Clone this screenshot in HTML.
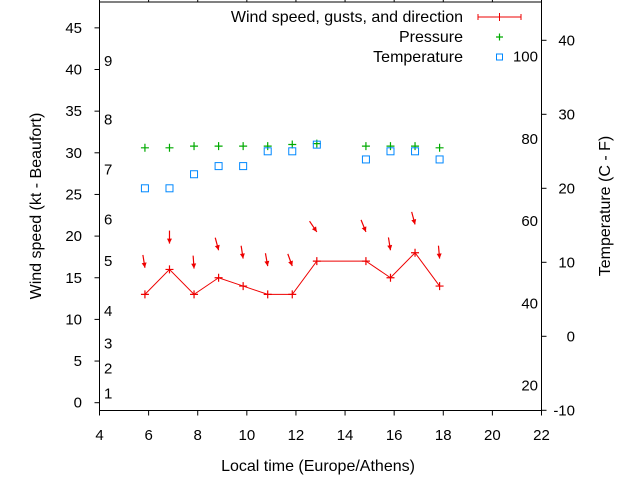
<!DOCTYPE html>
<html><head><meta charset="utf-8"><style>
body{margin:0;background:#fff}
svg{display:block;font-family:"Liberation Sans",sans-serif}
</style></head><body>
<svg id="chart" width="640" height="480" viewBox="0 0 640 480"></svg>
<script>
const times=[5.85,6.85,7.85,8.85,9.85,10.85,11.85,12.85,14.85,15.85,16.85,17.85];
const windSpeed=[13,16,13,15,14,13,13,17,17,15,18,14];
const gustSpeed=[16.2,19.1,16.1,18.3,17.3,16.4,16.4,20.5,20.5,18.3,21.4,17.3];
const windDir=[351,0,356,345,351,350,340,326,338,351,345,355];
const pressure=[30.6,30.6,30.8,30.8,30.8,30.8,31.0,31.1,30.8,30.8,30.8,30.6];
const temperature=[20.0,20.0,21.9,23.0,23.0,25.0,25.0,25.9,23.9,25.0,25.0,23.9];
const xTicks=[4,6,8,10,12,14,16,18,20,22];
const yTicks=[0,5,10,15,20,25,30,35,40,45];
const y2Ticks=[-10,0,10,20,30,40];
const beaufortLabels=[["1",1.1],["2",4.1],["3",7.1],["4",11],["5",17],["6",22],["7",28],["8",34],["9",41]];
const fahrenheitLabels=[20,40,60,80,100];

const L=99.5,R=541.5,T=2,B=410.5;
const xs=v=>L+(v-4)*(R-L)/18;
const ys=v=>402.7-v*8.33;
const y2s=v=>336.3-v*7.4;
const yF=f=>y2s((f-32)*5/9);
const svg=document.getElementById('chart');
const NS='http://www.w3.org/2000/svg';
function mk(tag,attrs,parent){const e=document.createElementNS(NS,tag);for(const k in attrs)e.setAttribute(k,attrs[k]);(parent||svg).appendChild(e);return e;}
function txt(x,y,s,anchor,size,extra){const e=mk('text',Object.assign({x:x,y:y,'text-anchor':anchor||'middle','font-size':size||15,fill:'#000'},extra||{}));e.textContent=s;return e;}

let e=mk('rect',{x:L,y:T,width:R-L,height:B-T,fill:'none',stroke:'#000','stroke-width':1});



xTicks.forEach(v=>{
  const x=xs(v);
  let t=mk('line',{x1:x,x2:x,y1:B,y2:B+5,stroke:'#000'});
  
  
  let t2=mk('line',{x1:x,x2:x,y1:T,y2:T-3,stroke:'#000'});
  
  
  let l=txt(x,440,String(v));
  
  
});
yTicks.forEach(v=>{
  const y=ys(v);
  let t=mk('line',{x1:L-5,x2:L,y1:y,y2:y,stroke:'#000'});
  
  
  let l=txt(82,y+5,String(v),'end');
  
  
});
y2Ticks.forEach(v=>{
  const y=y2s(v);
  let t=mk('line',{x1:R,x2:R+5,y1:y,y2:y,stroke:'#000'});
  
  
  let l=txt(575,y+5,String(v),'end');
  
  
});
beaufortLabels.forEach(b=>{
  let l=txt(104,ys(b[1])+5,b[0],'start');
  
  
});
fahrenheitLabels.forEach(f=>{
  let l=txt(538,yF(f)+5,String(f),'end');
  
  
});

e=txt(318,471,'Local time (Europe/Athens)','middle',16);


e=txt(0,0,'Wind speed (kt - Beaufort)','middle',16,{transform:'translate(41,206) rotate(-90)'});


e=txt(0,0,'Temperature (C - F)','middle',16,{transform:'translate(610,206) rotate(-90)'});



const pts=times.map((t,i)=>xs(t)+','+ys(windSpeed[i])).join(' ');
e=mk('polyline',{points:pts,fill:'none',stroke:'#e00','stroke-width':1});


function plus(x,y,c,name){
  const g=mk('path',{d:`M${x-4},${y}h8M${x},${y-4}v8`,stroke:c,'stroke-width':1.2,fill:'none'});
  
  
}
times.forEach((t,i)=>plus(xs(t),ys(windSpeed[i]),'#e00','wind-point'));
times.forEach((t,i)=>{
  const hx=xs(t),hy=ys(gustSpeed[i]);
  const a=windDir[i]*Math.PI/180;
  const ux=-Math.sin(a),uy=Math.cos(a);
  const g=mk('g',{});
  
  
  mk('line',{x1:hx-ux*13,y1:hy-uy*13,x2:hx,y2:hy,stroke:'#e00','stroke-width':1.2},g);
  const px=-uy,py=ux;
  mk('polygon',{points:`${hx},${hy} ${hx-ux*5+px*2.5},${hy-uy*5+py*2.5} ${hx-ux*5-px*2.5},${hy-uy*5-py*2.5}`,fill:'#e00'},g);
});
times.forEach((t,i)=>plus(xs(t),ys(pressure[i]),'#0a0','pressure-point'));
times.forEach((t,i)=>{
  const r=mk('rect',{x:xs(t)-3.5,y:y2s(temperature[i])-3.5,width:7,height:7,fill:'none',stroke:'#08f','stroke-width':1});
  
  
});

let lg=mk('g',{});


e=txt(463,22,'Wind speed, gusts, and direction','end',16);


mk('path',{d:'M478,17H521M478,14v6M521,14v6M499.5,13v8',stroke:'#e00','stroke-width':1,fill:'none'},lg);
e=txt(463,42,'Pressure','end',16);


mk('path',{d:'M496,37h7M499.5,33.5v7',stroke:'#0a0','stroke-width':1.2,fill:'none'},lg);
e=txt(463,62,'Temperature','end',16);


mk('rect',{x:496.5,y:54,width:6,height:6,fill:'none',stroke:'#08f'},lg);
</script>
</body></html>
